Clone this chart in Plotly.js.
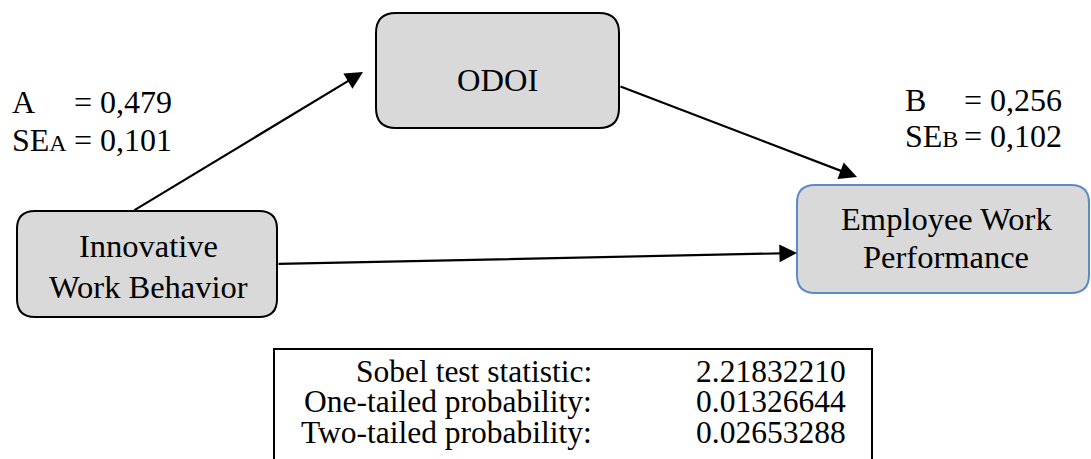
<!DOCTYPE html>
<html>
<head>
<meta charset="utf-8">
<script src="https://cdn.plot.ly/plotly-3.0.1.min.js"></script>
<style>html,body{margin:0;padding:0;background:#fff;}#chart{width:1091px;height:459px;}</style>
</head>
<body>
<div id="chart"></div>
<script>
// ---- data ----
const nodeLines = [['ODOI'], ['Employee Work', 'Performance'], ['Innovative', 'Work Behavior']];
const pathLabels = ['A', 'B'];
const coefValues = ['0,479', '0,256'];
const seValues = ['0,101', '0,102'];
const sobelLabels = ['Sobel test statistic:', 'One-tailed probability:', 'Two-tailed probability:'];
const sobelValues = ['2.21832210', '0.01326644', '0.02653288'];

// ---- layout geometry (pixels) ----
const FONT = 'Liberation Serif, Times New Roman, serif';
const boxes = [
  {x0: 376, y0: 13, x1: 619, y1: 128, r: 20, line: '#000000'},
  {x0: 797, y0: 185, x1: 1089, y1: 293, r: 18, line: '#5B8AC6'},
  {x0: 17, y0: 211, x1: 277, y1: 317, r: 18, line: '#000000'}
];
const nodeText = [
  {x: 497, base: [91]},
  {x: 946, base: [230, 268]},
  {x: 148, base: [257, 298]}
];
const arrows = [
  {fx: 133, fy: 211, tx: 363, ty: 72},
  {fx: 619, fy: 86, tx: 857, ty: 177},
  {fx: 277, fy: 264, tx: 797, ty: 253}
];
const coefPos = [
  {x: 10, xe: 72, base: [113, 151]},
  {x: 903, xe: 962, base: [111, 147]}
];
const table = {x0: 274, y0: 349, x1: 872, y1: 470, labelRight: 594, valueLeft: 694, base: [382, 412, 443]};

function rr(b) {
  const {x0, y0, x1, y1, r} = b;
  return `M${x0 + r},${y0} L${x1 - r},${y0} Q${x1},${y0} ${x1},${y0 + r} L${x1},${y1 - r} Q${x1},${y1} ${x1 - r},${y1} L${x0 + r},${y1} Q${x0},${y1} ${x0},${y1 - r} L${x0},${y0 + r} Q${x0},${y0} ${x0 + r},${y0} Z`;
}

const shapes = boxes.map(b => ({
  type: 'path', xref: 'x', yref: 'y', path: rr(b),
  fillcolor: '#D9D9D9', line: {color: b.line, width: 2}, layer: 'below'
}));
shapes.push({type: 'rect', xref: 'x', yref: 'y', x0: table.x0, y0: table.y0, x1: table.x1, y1: table.y1,
  line: {color: '#000', width: 2}, fillcolor: 'rgba(0,0,0,0)'});

const annotations = [];
function txt(x, base, size, text, xanchor) {
  annotations.push({xref: 'x', yref: 'y', x: x, y: base - 0.33 * size, text: text, showarrow: false,
    xanchor: xanchor, yanchor: 'middle', font: {family: FONT, size: size, color: '#000'}});
}
nodeLines.forEach((lines, i) => {
  lines.forEach((t, j) => txt(nodeText[i].x, nodeText[i].base[j], 32.5, t, 'center'));
});
pathLabels.forEach((p, i) => {
  const c = coefPos[i];
  txt(c.x, c.base[0], 32, p, 'left');
  txt(c.xe, c.base[0], 32, '= ' + coefValues[i], 'left');
  txt(c.x, c.base[1], 32, 'SE<span style="font-size:24px">' + p + '</span>', 'left');
  txt(c.xe, c.base[1], 32, '= ' + seValues[i], 'left');
});
sobelLabels.forEach((l, i) => {
  txt(table.labelRight, table.base[i], 31.5, l, 'right');
  txt(table.valueLeft, table.base[i], 31.5, sobelValues[i], 'left');
});
arrows.forEach(a => {
  annotations.push({xref: 'x', yref: 'y', axref: 'x', ayref: 'y', x: a.tx, y: a.ty, ax: a.fx, ay: a.fy,
    text: '', showarrow: true, arrowhead: 2, arrowsize: 1.6, arrowwidth: 2.2, arrowcolor: '#000', standoff: 0, startstandoff: 0});
});

const layout = {
  width: 1091, height: 459,
  margin: {l: 0, r: 0, t: 0, b: 0, pad: 0},
  paper_bgcolor: '#fff', plot_bgcolor: '#fff',
  showlegend: false,
  xaxis: {range: [0, 1091], visible: false, fixedrange: true},
  yaxis: {range: [459, 0], visible: false, fixedrange: true},
  shapes: shapes,
  annotations: annotations
};
Plotly.newPlot('chart', [{type: 'scatter', x: [], y: [], hoverinfo: 'skip'}], layout, {displayModeBar: false, staticPlot: true});
</script>
</body>
</html>
